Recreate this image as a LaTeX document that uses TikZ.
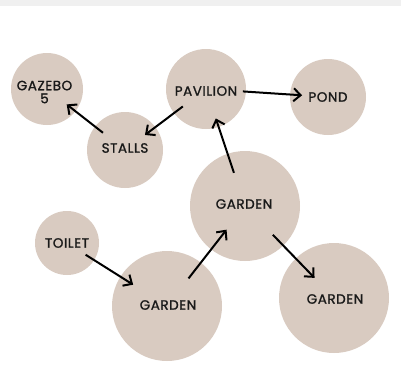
\documentclass[tikz,border=0pt]{standalone}
\usepackage{fontspec}
\setmainfont{Poppins}[LetterSpace=4,UprightFeatures={FakeBold=1.2}]
\usetikzlibrary{arrows.meta,calc}
\definecolor{bub}{RGB}{217,203,193}
\definecolor{txt}{RGB}{25,25,25}
\definecolor{strip}{RGB}{240,240,240}
\begin{document}
\begin{tikzpicture}[x=1pt,y=-1pt,
  bubble/.style={circle,fill=bub,inner sep=0pt,minimum size=#1},
  lbl/.style={text=txt,font=\fontsize{13.5}{13}\selectfont,align=center,inner sep=0pt},
  arr/.style={draw=black,line width=2pt,-{Straight Barb[length=7pt,width=13pt,line width=2pt]}}]
\useasboundingbox (0,0) rectangle (401,365);
\fill[strip] (0,0) rectangle (401,6);
\node[bubble=72pt] (gazebo) at (47,89) {};
\node[lbl] (gazebotext) at (44.5,92) {GAZEBO\\5};
\node[bubble=80pt] (pavilion) at (206,89) {};
\node[lbl] (paviliontext) at (206,91) {PAVILION};
\node[bubble=76pt] (pond) at (328,97) {};
\node[lbl] (pondtext) at (328,97) {POND};
\node[bubble=76pt] (stalls) at (125,150) {};
\node[lbl] (stallstext) at (125,148) {STALLS};
\node[bubble=110pt] (gtop) at (245,206) {};
\node[lbl] (gtoptext) at (244,204) {GARDEN};
\node[bubble=64pt] (toilet) at (67,243) {};
\node[lbl] (toilettext) at (67,243) {TOILET};
\node[bubble=110pt] (gbl) at (167,306) {};
\node[lbl] (gbltext) at (168,305) {GARDEN};
\node[bubble=110pt] (gr) at (334,298) {};
\node[lbl] (grtext) at (335,299) {GARDEN};
\draw[arr] ($(stalls)!28pt!(gazebo)$) -- ($(gazebo)!25pt!(stalls)$);
\draw[arr] ($(pavilion)!29pt!(stalls)$) -- ($(stalls)!25pt!(pavilion)$);
\draw[arr] ($(pavilion)!37pt!(pond)$) -- ($(pond)!26pt!(pavilion)$);
\draw[arr] ($(gtop)!35pt!(pavilion)$) -- ($(pavilion)!31pt!(gtop)$);
\draw[arr] ($(toilet)!22pt!(gbl)$) -- ($(gbl)!40pt!(toilet)$);
\draw[arr] ($(gbl)!35pt!(gtop)$) -- ($(gtop)!30pt!(gbl)$);
\draw[arr] ($(gtop)!40pt!(gr)$) -- ($(gr)!28pt!(gtop)$);
\end{tikzpicture}
\end{document}
